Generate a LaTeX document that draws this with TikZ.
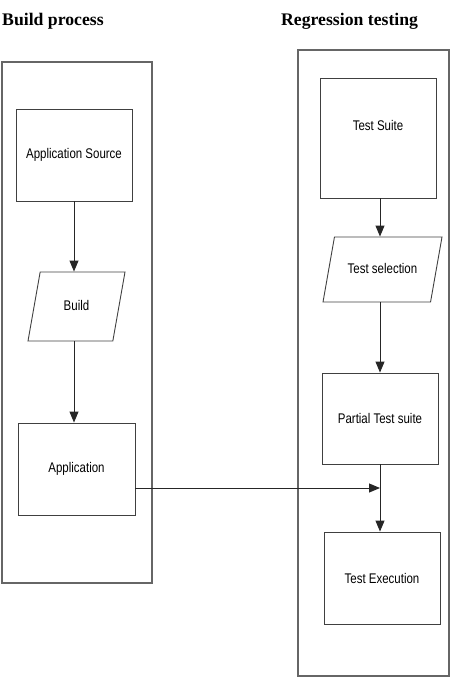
\documentclass[tikz,border=0pt]{standalone}
\usepackage{fontspec}
\setmainfont{Liberation Serif}
\newfontfamily\boxfont{Liberation Sans}[FakeStretch=0.82]
\usetikzlibrary{arrows.meta, positioning, shapes.geometric}

\tikzset{
  lane/.style={draw=black!60, line width=1.3bp, inner sep=0pt},
  procbox/.style={draw=black!75, line width=0.9bp, inner sep=2bp,
    font=\boxfont\fontsize{14bp}{16bp}\selectfont},
  databox/.style={procbox, trapezium, trapezium left angle=80,
    trapezium right angle=100, trapezium stretches body,
    text height=10bp, text depth=3bp},
  flow/.style={-{Triangle[length=11bp,width=9bp]}, draw=black!85, line width=1bp},
  lanetitle/.style={font=\bfseries\fontsize{17.7bp}{20bp}\selectfont,
    anchor=base west, inner sep=0pt}
}

\begin{document}
\begin{tikzpicture}[x=1bp, y=-1bp]
      \useasboundingbox (0,0) rectangle (451,695);

      % lane titles
      \node[lanetitle] (buildtitle) at (2,26) {Build process};
      \node[lanetitle] (testtitle) at (281,26) {Regression testing};

      % lanes
      \node[lane, minimum width=150bp, minimum height=521bp] (buildlane) at (77,322.5) {};
      \node[lane, minimum width=151bp, minimum height=626bp] (testlane) at (373.5,363) {};

      % build process
      \node[procbox, minimum width=116bp, minimum height=92bp] (appsrc) at (74,155) {Application Source};
      \node[databox, minimum width=97bp, inner ysep=28bp] (build) at (76.5,306.5) {Build};
      \node[procbox, minimum width=117bp, minimum height=92bp] (app) at (76.5,469) {Application};

      % regression testing
      \node[procbox, minimum width=116bp, minimum height=120bp, text depth=25bp] (tsuite) at (378,138) {Test Suite};
      \node[databox, minimum width=119bp, inner ysep=26bp] (tselect) at (382.5,269.5) {Test selection};
      \node[procbox, minimum width=116bp, minimum height=91bp] (partial) at (380,418.5) {Partial Test suite};
      \node[procbox, minimum width=116bp, minimum height=92bp] (exec) at (382,578) {Test Execution};

      \coordinate (merge) at (380,488);

      \draw[flow] (appsrc.south) -- (appsrc.south |- build.north);
      \draw[flow] (appsrc.south |- build.south) -- (appsrc.south |- app.north);
      \draw[flow] (tsuite.south -| partial.south) -- (partial.south |- tselect.north);
      \draw[flow] (partial.south |- tselect.south) -- (partial.north);
      \draw[flow] (app.east |- merge) -- (merge);
      \draw[flow] (partial.south) -- (partial.south |- exec.north);
\end{tikzpicture}
\end{document}
